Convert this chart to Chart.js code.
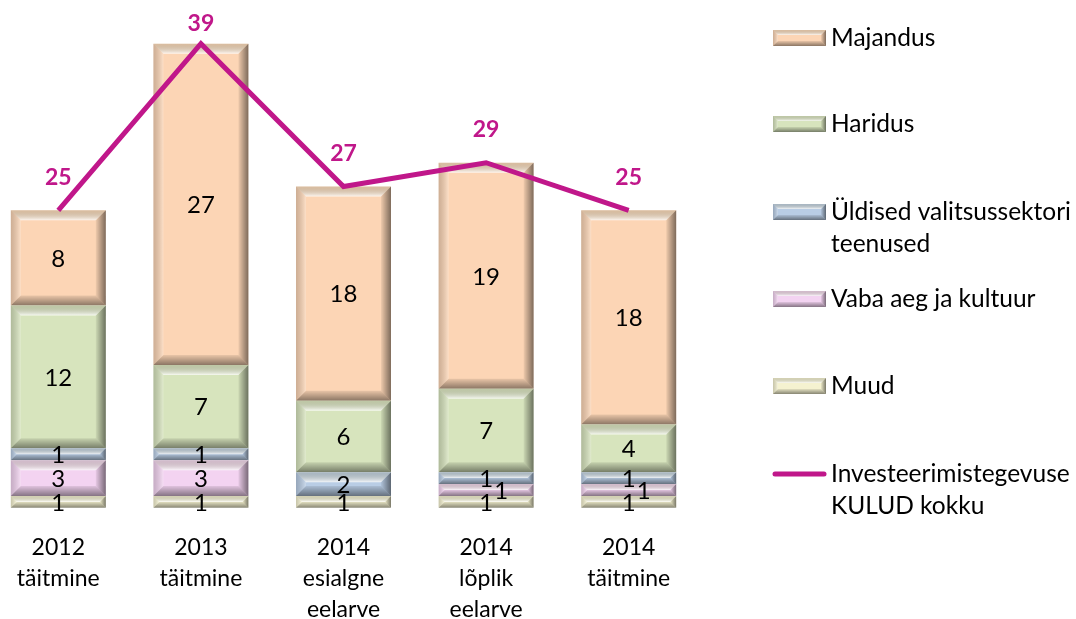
<!DOCTYPE html>
<html lang="et">
<head>
  <meta charset="UTF-8" />
  <title>Investeerimistegevuse kulud</title>
  <script src="https://cdn.jsdelivr.net/npm/chart.js"></script>
  <style>
    body { margin: 0; padding: 0; background: #fff; }
    #frame { position: relative; width: 1076px; height: 619px; overflow: hidden; }
    #wrap { position: absolute; left: -13px; top: 0; width: 1089px; height: 649px; }
  </style>
</head>
<body>
  <div id="frame"><div id="wrap"><canvas id="chart"></canvas></div></div>

  <script>
    const categories = [
      ['2012', 'täitmine'],
      ['2013', 'täitmine'],
      ['2014', 'esialgne', 'eelarve'],
      ['2014', 'lõplik', 'eelarve'],
      ['2014', 'täitmine']
    ];
    const muud = [1, 1, 1, 1, 1];
    const vabaAeg = [3, 3, 0, 1, 1];
    const uldised = [1, 1, 2, 1, 1];
    const haridus = [12, 7, 6, 7, 4];
    const majandus = [8, 27, 18, 19, 18];
    const kokku = [25, 39, 27, 29, 25];

    const FONT = 'Lato, "Open Sans", sans-serif';
    const LINE_COLOR = '#C0178A';

    function poly(ctx, pts, fill) {
      ctx.beginPath();
      ctx.moveTo(pts[0][0], pts[0][1]);
      for (let i = 1; i < pts.length; i++) ctx.lineTo(pts[i][0], pts[i][1]);
      ctx.closePath();
      ctx.fillStyle = fill;
      ctx.fill();
    }

    // excel-like bevel on a rectangle
    function bevel(ctx, x0, y0, x1, y1, size) {
      const b = Math.min(size, (y1 - y0) / 2, (x1 - x0) / 2);
      if (b <= 0) return;
      let g = ctx.createLinearGradient(0, y0, 0, y0 + b);
      g.addColorStop(0, 'rgba(120,120,100,0.25)');
      g.addColorStop(1, 'rgba(255,255,255,0.8)');
      poly(ctx, [[x0, y0], [x1, y0], [x1 - b, y0 + b], [x0 + b, y0 + b]], g);
      g = ctx.createLinearGradient(x0, 0, x0 + b, 0);
      g.addColorStop(0, 'rgba(0,0,0,0.18)');
      g.addColorStop(1, 'rgba(255,255,255,0.25)');
      poly(ctx, [[x0, y0], [x0 + b, y0 + b], [x0 + b, y1 - b], [x0, y1]], g);
      g = ctx.createLinearGradient(x1 - b, 0, x1, 0);
      g.addColorStop(0, 'rgba(0,0,0,0.05)');
      g.addColorStop(1, 'rgba(0,0,0,0.5)');
      poly(ctx, [[x1, y0], [x1, y1], [x1 - b, y1 - b], [x1 - b, y0 + b]], g);
      g = ctx.createLinearGradient(0, y1 - b, 0, y1);
      g.addColorStop(0, 'rgba(0,0,0,0.08)');
      g.addColorStop(1, 'rgba(0,0,0,0.45)');
      poly(ctx, [[x0, y1], [x1, y1], [x1 - b, y1 - b], [x0 + b, y1 - b]], g);
    }

    const bevelPlugin = {
      id: 'bevel',
      afterDatasetDraw(chart, args) {
        if (args.meta.type !== 'bar') return;
        const ctx = chart.ctx;
        ctx.save();
        args.meta.data.forEach(el => {
          const p = el.getProps(['x', 'y', 'base', 'width'], true);
          const top = Math.min(p.y, p.base), bot = Math.max(p.y, p.base);
          if (bot - top < 0.5) return;
          bevel(ctx, p.x - p.width / 2, top, p.x + p.width / 2, bot, 10);
        });
        ctx.restore();
      }
    };

    const labelPlugin = {
      id: 'labels',
      afterDatasetsDraw(chart) {
        const ctx = chart.ctx;
        ctx.save();
        ctx.textAlign = 'center';
        ctx.textBaseline = 'middle';
        ctx.font = '24px ' + FONT;
        ctx.fillStyle = '#000';
        const placed = categories.map(() => []);
        chart.data.datasets.forEach((ds, di) => {
          if (ds.type === 'line') return;
          const meta = chart.getDatasetMeta(di);
          meta.data.forEach((el, i) => {
            const v = ds.data[i];
            if (!v) return;
            const p = el.getProps(['x', 'y', 'base'], true);
            let x = p.x;
            const y = (p.y + p.base) / 2 + 1;
            const w = ctx.measureText(String(v)).width;
            const hit = r => Math.abs(r.x - x) < (r.w + w) / 2 && Math.abs(r.y - y) < 16;
            if (placed[i].some(hit)) x += 15;
            placed[i].push({ x, y, w });
            ctx.fillText(String(v), x, y);
          });
        });
        // totals above the line
        const li = chart.data.datasets.findIndex(d => d.type === 'line');
        ctx.font = 'bold 23px ' + FONT;
        ctx.fillStyle = LINE_COLOR;
        chart.getDatasetMeta(li).data.forEach((pt, i) => {
          const y = Math.max(pt.y - 33, 24);
          ctx.fillText(String(kokku[i]), pt.x, y);
        });
        ctx.restore();
      }
    };

    const legendItems = [
      { text: ['Majandus'], color: '#FCD5B5', y: 38 },
      { text: ['Haridus'], color: '#D7E4BD', y: 124 },
      { text: ['Üldised valitsussektori', 'teenused'], color: '#B9CDE5', y: 212 },
      { text: ['Vaba aeg ja kultuur'], color: '#F3D3F1', y: 299 },
      { text: ['Muud'], color: '#F5F2D0', y: 386 },
      { text: ['Investeerimistegevuse', 'KULUD kokku'], line: true, y: 474 }
    ];

    const legendPlugin = {
      id: 'sideLegend',
      afterDraw(chart) {
        const ctx = chart.ctx;
        const off = 13;
        ctx.save();
        ctx.font = '24.5px ' + FONT;
        ctx.textBaseline = 'middle';
        ctx.textAlign = 'left';
        legendItems.forEach(it => {
          const x0 = 773 + off, x1 = 826 + off;
          if (it.line) {
            ctx.strokeStyle = LINE_COLOR;
            ctx.lineWidth = 5;
            ctx.lineCap = 'round';
            ctx.beginPath();
            ctx.moveTo(x0 + 2, it.y);
            ctx.lineTo(x1 - 2, it.y);
            ctx.stroke();
          } else {
            ctx.fillStyle = it.color;
            ctx.fillRect(x0, it.y - 8, x1 - x0, 16);
            bevel(ctx, x0, it.y - 8, x1, it.y + 8, 5);
          }
          ctx.fillStyle = '#000';
          it.text.forEach((t, k) => ctx.fillText(t, 831 + off, it.y + k * 32));
        });
        ctx.restore();
      }
    };

    const barDs = (label, data, color) => ({
      type: 'bar', label, data, backgroundColor: color, borderWidth: 0,
      order: 1, yAxisID: 'y'
    });

    new Chart(document.getElementById('chart'), {
      data: {
        labels: categories,
        datasets: [
          {
            type: 'line', label: 'Investeerimistegevuse KULUD kokku', data: kokku,
            borderColor: LINE_COLOR, borderWidth: 5, pointRadius: 0, tension: 0,
            fill: false, order: 0, yAxisID: 'yLine'
          },
          barDs('Muud', muud, '#F5F2D0'),
          barDs('Vaba aeg ja kultuur', vabaAeg, '#F3D3F1'),
          barDs('Üldised valitsussektori teenused', uldised, '#B9CDE5'),
          barDs('Haridus', haridus, '#D7E4BD'),
          barDs('Majandus', majandus, '#FCD5B5')
        ]
      },
      options: {
        responsive: true,
        maintainAspectRatio: false,
        animation: false,
        layout: { padding: { top: 8, right: 376, left: 0, bottom: 0 } },
        datasets: { bar: { categoryPercentage: 1, barPercentage: 0.666 } },
        scales: {
          x: {
            stacked: true,
            offset: true,
            border: { display: false },
            grid: { display: false, drawTicks: false },
            ticks: {
              color: '#000', padding: 24, autoSkip: false, maxRotation: 0,
              font: { family: FONT, size: 23, lineHeight: 1.35 }
            }
          },
          y: { stacked: true, min: 0, max: 42, display: false },
          yLine: { min: 0, max: 42, display: false }
        },
        plugins: {
          legend: { display: false },
          tooltip: { enabled: false }
        }
      },
      plugins: [bevelPlugin, labelPlugin, legendPlugin]
    });
  </script>
</body>
</html>
